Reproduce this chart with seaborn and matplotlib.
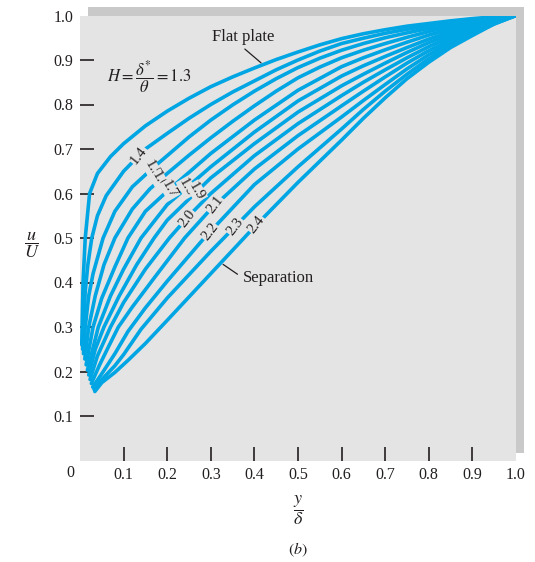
import numpy as np
import pandas as pd
import matplotlib
matplotlib.use("Agg")
import matplotlib.pyplot as plt
import seaborn as sns
from matplotlib.patches import Rectangle

# velocity profiles u/U against y/delta, one pair of lists per shape factor H
h13_y = [0.004, 0.007, 0.012, 0.022, 0.04, 0.07, 0.1, 0.15, 0.2, 0.25, 0.3, 0.35, 0.4, 0.45, 0.5, 0.55, 0.6, 0.65, 0.7, 0.75, 0.8, 0.85, 0.9, 0.95, 1.0]
h13_u = [0.26, 0.40, 0.50, 0.60, 0.645, 0.683, 0.712, 0.752, 0.785, 0.814, 0.84, 0.862, 0.882, 0.901, 0.918, 0.934, 0.948, 0.959, 0.968, 0.976, 0.982, 0.988, 0.993, 0.997, 1.0]

h14_y = [0.006, 0.008, 0.012, 0.018, 0.027, 0.04, 0.06, 0.1, 0.15, 0.2, 0.25, 0.3, 0.35, 0.4, 0.45, 0.5, 0.55, 0.6, 0.65, 0.7, 0.75, 0.8, 0.85, 0.9, 0.95, 1.0]
h14_u = [0.25, 0.30, 0.38, 0.44, 0.50, 0.55, 0.595, 0.65, 0.70, 0.735, 0.769, 0.80, 0.828, 0.853, 0.878, 0.90, 0.92, 0.937, 0.949, 0.96, 0.969, 0.977, 0.985, 0.991, 0.996, 1.0]

h15_y = [0.008, 0.012, 0.02, 0.03, 0.053, 0.08, 0.12, 0.17, 0.2, 0.25, 0.3, 0.35, 0.4, 0.45, 0.5, 0.55, 0.6, 0.65, 0.7, 0.75, 0.8, 0.85, 0.9, 0.95, 1.0]
h15_u = [0.24, 0.30, 0.37, 0.42, 0.50, 0.56, 0.615, 0.66, 0.685, 0.727, 0.765, 0.799, 0.83, 0.858, 0.883, 0.904, 0.922, 0.937, 0.95, 0.961, 0.971, 0.98, 0.988, 0.995, 1.0]

h16_y = [0.011, 0.02, 0.035, 0.055, 0.08, 0.12, 0.16, 0.2, 0.25, 0.3, 0.35, 0.4, 0.45, 0.5, 0.55, 0.6, 0.65, 0.7, 0.75, 0.8, 0.85, 0.9, 0.95, 1.0]
h16_u = [0.228, 0.30, 0.37, 0.44, 0.50, 0.565, 0.61, 0.645, 0.686, 0.725, 0.762, 0.797, 0.83, 0.86, 0.884, 0.905, 0.922, 0.937, 0.951, 0.964, 0.976, 0.985, 0.993, 1.0]

h17_y = [0.014, 0.03, 0.05, 0.08, 0.11, 0.15, 0.2, 0.3, 0.4, 0.5, 0.6, 0.65, 0.7, 0.75, 0.8, 0.85, 0.9, 0.95, 1.0]
h17_u = [0.215, 0.30, 0.365, 0.435, 0.50, 0.56, 0.605, 0.69, 0.765, 0.832, 0.885, 0.905, 0.923, 0.94, 0.956, 0.97, 0.982, 0.992, 1.0]

h18_y = [0.017, 0.042, 0.07, 0.1, 0.14, 0.2, 0.3, 0.4, 0.5, 0.6, 0.65, 0.7, 0.75, 0.8, 0.85, 0.9, 0.95, 1.0]
h18_u = [0.203, 0.30, 0.37, 0.43, 0.50, 0.575, 0.66, 0.738, 0.808, 0.864, 0.887, 0.908, 0.928, 0.947, 0.964, 0.978, 0.99, 1.0]

h19_y = [0.02, 0.035, 0.055, 0.09, 0.13, 0.17, 0.2, 0.3, 0.4, 0.5, 0.6, 0.65, 0.7, 0.75, 0.8, 0.85, 0.9, 0.95, 1.0]
h19_u = [0.192, 0.25, 0.30, 0.37, 0.44, 0.50, 0.54, 0.635, 0.712, 0.783, 0.842, 0.868, 0.893, 0.917, 0.939, 0.958, 0.975, 0.989, 1.0]

h20_y = [0.023, 0.04, 0.07, 0.1, 0.15, 0.205, 0.25, 0.3, 0.4, 0.5, 0.6, 0.65, 0.7, 0.75, 0.8, 0.85, 0.9, 0.95, 1.0]
h20_u = [0.182, 0.235, 0.30, 0.355, 0.43, 0.50, 0.55, 0.60, 0.685, 0.757, 0.82, 0.85, 0.878, 0.905, 0.93, 0.952, 0.971, 0.987, 1.0]

h21_y = [0.026, 0.045, 0.065, 0.088, 0.12, 0.17, 0.24, 0.3, 0.4, 0.5, 0.6, 0.65, 0.7, 0.75, 0.8, 0.85, 0.9, 0.95, 1.0]
h21_u = [0.173, 0.215, 0.255, 0.30, 0.345, 0.41, 0.50, 0.565, 0.655, 0.73, 0.797, 0.83, 0.862, 0.893, 0.921, 0.945, 0.967, 0.985, 1.0]

h22_y = [0.029, 0.05, 0.08, 0.11, 0.15, 0.2, 0.285, 0.4, 0.5, 0.6, 0.65, 0.7, 0.75, 0.8, 0.85, 0.9, 0.95, 1.0]
h22_u = [0.165, 0.195, 0.24, 0.29, 0.343, 0.403, 0.50, 0.62, 0.70, 0.772, 0.809, 0.845, 0.88, 0.912, 0.939, 0.963, 0.983, 1.0]

h23_y = [0.032, 0.05, 0.08, 0.1, 0.14, 0.2, 0.3, 0.4, 0.5, 0.6, 0.65, 0.7, 0.75, 0.8, 0.85, 0.9, 0.95, 1.0]
h23_u = [0.16, 0.182, 0.213, 0.238, 0.295, 0.365, 0.47, 0.57, 0.66, 0.745, 0.789, 0.83, 0.868, 0.903, 0.933, 0.959, 0.981, 1.0]

h24_y = [0.034, 0.05, 0.08, 0.11, 0.15, 0.2, 0.3, 0.4, 0.5, 0.6, 0.65, 0.7, 0.75, 0.8, 0.85, 0.9, 0.95, 1.0]
h24_u = [0.155, 0.175, 0.198, 0.225, 0.263, 0.315, 0.42, 0.525, 0.625, 0.72, 0.769, 0.815, 0.858, 0.895, 0.928, 0.955, 0.981, 1.0]

shape_factors = ["1.3", "1.4", "1.5", "1.6", "1.7", "1.8", "1.9", "2.0", "2.1", "2.2", "2.3", "2.4"]
profiles = [(h13_y, h13_u), (h14_y, h14_u), (h15_y, h15_u), (h16_y, h16_u),
            (h17_y, h17_u), (h18_y, h18_u), (h19_y, h19_u), (h20_y, h20_u),
            (h21_y, h21_u), (h22_y, h22_u), (h23_y, h23_u), (h24_y, h24_u)]

x_ticks = [0.1, 0.2, 0.3, 0.4, 0.5, 0.6, 0.7, 0.8, 0.9, 1.0]
x_tick_labels = ["0.1", "0.2", "0.3", "0.4", "0.5", "0.6", "0.7", "0.8", "0.9", "1.0"]
y_ticks = [0.1, 0.2, 0.3, 0.4, 0.5, 0.6, 0.7, 0.8, 0.9, 1.0]
y_tick_labels = ["0.1", "0.2", "0.3", "0.4", "0.5", "0.6", "0.7", "0.8", "0.9", "1.0"]

# where each H label sits along its curve, and its angle
label_x = {"1.4": 0.135, "1.5": 0.165, "1.6": 0.182, "1.7": 0.205, "1.8": 0.245, "1.9": 0.268,
           "2.0": 0.245, "2.1": 0.31, "2.2": 0.298, "2.3": 0.356, "2.4": 0.405}
label_rot = {"1.4": 52, "1.5": -60, "1.6": -60, "1.7": -60, "1.8": -60, "1.9": -60,
             "2.0": 52, "2.1": 52, "2.2": 52, "2.3": 52, "2.4": 52}

rows = []
for h, (ys, us) in zip(shape_factors, profiles):
    for yv, uv in zip(ys, us):
        rows.append({"H": h, "y_delta": yv, "u_U": uv})
df = pd.DataFrame(rows)

sns.set_theme(style="white")
plt.rcParams["font.family"] = ["Liberation Serif", "DejaVu Serif"]
plt.rcParams["mathtext.fontset"] = "stix"

BLUE = "#00a5e3"
BG = "#e4e4e4"
INK = "#231f20"

fig = plt.figure(figsize=(5.35, 5.62), dpi=100)
ax = fig.add_axes([80 / 535, 101.5 / 562, 436 / 535, 445 / 562])
ax.set_facecolor(BG)

# drop shadow behind the plot panel
shadow = Rectangle((88 / 535, 109 / 562), 436 / 535, 446 / 562, transform=fig.transFigure,
                   facecolor="#c9c9c9", edgecolor="none", zorder=-1)
fig.add_artist(shadow)

sns.lineplot(data=df, x="y_delta", y="u_U", units="H", estimator=None, sort=False,
             color=BLUE, linewidth=2.6, legend=False, ax=ax)
for ln in ax.get_lines():
    ln.set_solid_joinstyle("round")
    ln.set_solid_capstyle("round")

ax.set_xlim(0, 1)
ax.set_ylim(0, 1)
for s in ax.spines.values():
    s.set_visible(False)

ax.set_xticks(x_ticks)
ax.set_xticklabels(x_tick_labels)
ax.set_yticks(y_ticks)
ax.set_yticklabels(y_tick_labels)
ax.tick_params(bottom=True, left=True, direction="in", length=10, width=1.2, color=INK,
               labelcolor=INK, labelsize=11.5)
ax.tick_params(axis="x", pad=5)
ax.tick_params(axis="y", pad=5)
ax.xaxis.get_major_ticks()[-1].tick1line.set_visible(False)
ax.yaxis.get_major_ticks()[-1].tick1line.set_visible(False)
ax.set_xlabel("")
ax.set_ylabel("")

fig.text(70 / 535, 1 - 473 / 562, "0", ha="center", va="center", fontsize=11.5, color=INK)
fig.text(32 / 535, 1 - 245 / 562, r"$\dfrac{u}{U}$", ha="center", va="center", fontsize=13, color=INK)
fig.text(298 / 535, 1 - 510 / 562, r"$\dfrac{y}{\delta}$", ha="center", va="center", fontsize=13, color=INK)
fig.text(298 / 535, 1 - 550 / 562, r"$(b)$", ha="center", va="center", fontsize=11.5, color=INK)

# H labels written on the curves
for h, (ys, us) in zip(shape_factors, profiles):
    if h not in label_x:
        continue
    lx = label_x[h]
    ly = np.interp(lx, ys, us)
    ax.text(lx, ly, h, rotation=label_rot[h], rotation_mode="anchor", ha="center", va="center",
            fontsize=10.5, color=INK, zorder=4,
            bbox=dict(boxstyle="square,pad=0.05", facecolor=BG, edgecolor="none"))

ax.text(0.062, 0.862, r"$H = \dfrac{\delta^{*}}{\theta} = 1.3$", ha="left", va="center",
        fontsize=12, color=INK)

ax.annotate("Flat plate", xy=(0.42, np.interp(0.42, h13_y, h13_u)), xytext=(0.374, 0.952),
            ha="center", va="center", fontsize=12, color=INK,
            arrowprops=dict(arrowstyle="-", color=INK, lw=0.9, shrinkA=1, shrinkB=2, relpos=(0.45, 0)))
ax.annotate("Separation", xy=(0.323, np.interp(0.323, h24_y, h24_u)), xytext=(0.374, 0.41),
            ha="left", va="center", fontsize=12, color=INK,
            arrowprops=dict(arrowstyle="-", color=INK, lw=0.9, shrinkA=2, shrinkB=2, relpos=(0, 0.5)))

fig.savefig("out.png", dpi=100, facecolor="white")
